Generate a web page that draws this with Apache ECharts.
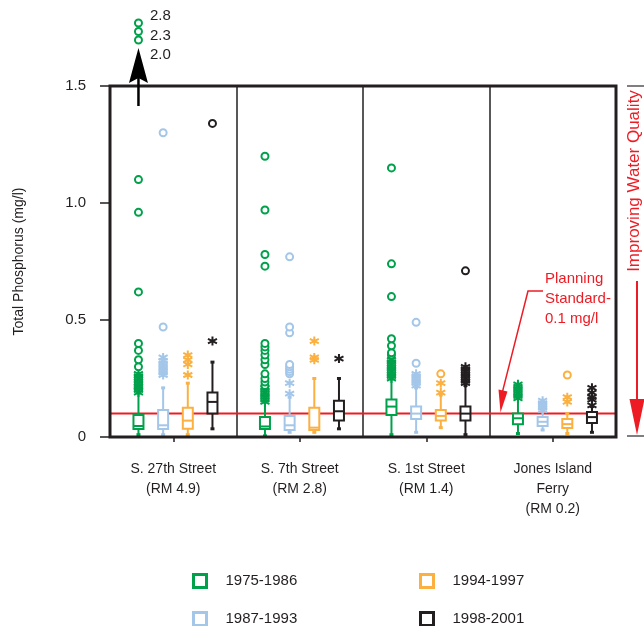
<!DOCTYPE html>
<html>
<head>
<meta charset="utf-8">
<script src="https://cdn.jsdelivr.net/npm/echarts@6/dist/echarts.min.js"></script>
<style>
html,body{margin:0;padding:0;background:#fff;}
#chart{width:644px;height:626px;}
</style>
</head>
<body>
<div id="chart"></div>
<script>
// ---------------- data ----------------
const sites = ['S. 27th Street\n(RM 4.9)', 'S. 7th Street\n(RM 2.8)', 'S. 1st Street\n(RM 1.4)', 'Jones Island\nFerry\n(RM 0.2)'];
const periods = ['1975-1986', '1987-1993', '1994-1997', '1998-2001'];
const yTicks = [0, 0.5, 1.0, 1.5];
const standard = 0.1;

// [low whisker, q1, median, q3, high whisker] per site
const box1975 = [[0.01, 0.034, 0.047, 0.094, 0.19], [0.005, 0.034, 0.045, 0.085, 0.15], [0.01, 0.094, 0.13, 0.16, 0.25], [0.015, 0.055, 0.08, 0.10, 0.165]];
const box1987 = [[0.01, 0.034, 0.05, 0.115, 0.21], [0.02, 0.03, 0.05, 0.09, 0.17], [0.02, 0.077, 0.10, 0.13, 0.21], [0.03, 0.047, 0.065, 0.085, 0.115]];
const box1994 = [[0.01, 0.035, 0.07, 0.125, 0.23], [0.02, 0.03, 0.04, 0.125, 0.25], [0.04, 0.07, 0.09, 0.115, 0.18], [0.015, 0.038, 0.055, 0.077, 0.10]];
const box1998 = [[0.035, 0.10, 0.15, 0.19, 0.32], [0.035, 0.07, 0.11, 0.155, 0.25], [0.01, 0.07, 0.10, 0.13, 0.22], [0.02, 0.06, 0.085, 0.107, 0.13]];

// asterisk outliers per site
const stars1975 = [[0.19, 0.20, 0.21, 0.215, 0.22, 0.23, 0.24, 0.25, 0.26, 0.27], [0.15, 0.16, 0.17, 0.18, 0.19, 0.20, 0.21], [0.25, 0.26, 0.27, 0.28, 0.29, 0.30, 0.31, 0.32, 0.33], [0.165, 0.175, 0.185, 0.195, 0.205, 0.215, 0.225]];
const stars1987 = [[0.265, 0.275, 0.285, 0.295, 0.305, 0.315, 0.325, 0.34], [0.185, 0.23], [0.22, 0.23, 0.24, 0.25, 0.26, 0.27], [0.115, 0.125, 0.135, 0.145, 0.155]];
const stars1994 = [[0.265, 0.31, 0.33, 0.35], [0.33, 0.34, 0.41], [0.19, 0.23], [0.15, 0.17]];
const stars1998 = [[0.41], [0.335], [0.23, 0.24, 0.25, 0.26, 0.27, 0.28, 0.29, 0.30], [0.135, 0.16, 0.17, 0.19, 0.21]];

// circle outliers per site
const circles1975 = [[0.30, 0.33, 0.37, 0.40, 0.62, 0.96, 1.10], [0.22, 0.235, 0.25, 0.27, 0.31, 0.33, 0.35, 0.37, 0.385, 0.40, 0.73, 0.78, 0.97, 1.20], [0.35, 0.36, 0.39, 0.42, 0.60, 0.74, 1.15], []];
const circles1987 = [[0.47, 1.30], [0.27, 0.28, 0.29, 0.30, 0.31, 0.445, 0.47, 0.77], [0.315, 0.49], []];
const circles1994 = [[], [], [0.27], [0.265]];
const circles1998 = [[1.34], [], [0.71], []];

// off-scale outliers (S. 27th Street, 1975-1986)
const offScale = ['2.0', '2.3', '2.8'];

// ---------------- style ----------------
const colors = ['#00a14b', '#a3c6e9', '#fbb040', '#231f20'];
const red = '#ed1c24';
const ink = '#231f20';
const font = '"Liberation Sans", Arial, sans-serif';
const offsets = [0.225, 0.42, 0.615, 0.81];

const boxes = [box1975, box1987, box1994, box1998];
const stars = [stars1975, stars1987, stars1994, stars1998];
const circles = [circles1975, circles1987, circles1994, circles1998];

const starPath = 'path://M0,-5L0,5M-4.33,-2.5L4.33,2.5M-4.33,2.5L4.33,-2.5';

function boxRender(params, api) {
  const x = api.value(0);
  const pts = [1, 2, 3, 4, 5].map(i => api.coord([x, api.value(i)]));
  const cx = pts[0][0];
  const yl = pts[0][1], yq1 = pts[1][1], ym = pts[2][1], yq3 = pts[3][1], yh = pts[4][1];
  const hw = 5;
  const col = api.visual('color');
  const ls = {stroke: col, lineWidth: 2, fill: null};
  return {
    type: 'group',
    children: [
      {type: 'line', shape: {x1: cx, y1: yl, x2: cx, y2: yq1}, style: ls},
      {type: 'line', shape: {x1: cx, y1: yq3, x2: cx, y2: yh}, style: ls},
      {type: 'line', shape: {x1: cx - 2, y1: yl, x2: cx + 2, y2: yl}, style: {stroke: col, lineWidth: 3}},
      {type: 'line', shape: {x1: cx - 2, y1: yh, x2: cx + 2, y2: yh}, style: {stroke: col, lineWidth: 3}},
      {type: 'rect', shape: {x: cx - hw, y: yq3, width: hw * 2, height: yq1 - yq3}, style: {stroke: col, lineWidth: 2, fill: '#fff'}},
      {type: 'line', shape: {x1: cx - hw, y1: ym, x2: cx + hw, y2: ym}, style: ls}
    ]
  };
}

const series = [];
series.push({
  type: 'line', xAxisIndex: 1, yAxisIndex: 0, symbol: 'none', silent: true, z: 1,
  data: [[0, standard], [4, standard]],
  lineStyle: {color: red, width: 2}
});
periods.forEach((p, k) => {
  series.push({
    name: p, type: 'custom', xAxisIndex: 1, yAxisIndex: 0, z: 3,
    itemStyle: {color: colors[k]},
    renderItem: boxRender,
    encode: {x: 0, y: [1, 2, 3, 4, 5]},
    data: boxes[k].map((b, i) => [i + offsets[k]].concat(b))
  });
  const sd = [], cd = [];
  stars[k].forEach((arr, i) => arr.forEach(v => sd.push([i + offsets[k], v])));
  circles[k].forEach((arr, i) => arr.forEach(v => cd.push([i + offsets[k], v])));
  series.push({
    name: p, type: 'scatter', xAxisIndex: 1, yAxisIndex: 0, z: 4,
    symbol: starPath, symbolSize: 9,
    itemStyle: {color: colors[k], borderColor: colors[k], borderWidth: 2, opacity: 1},
    data: sd
  });
  series.push({
    name: p, type: 'scatter', xAxisIndex: 1, yAxisIndex: 0, z: 4,
    symbol: 'emptyCircle', symbolSize: 7,
    itemStyle: {color: colors[k], borderWidth: 1.8, opacity: 1},
    data: cd
  });
});
// off-scale circles
series.push({
  type: 'scatter', xAxisIndex: 2, yAxisIndex: 1, symbol: 'emptyCircle', symbolSize: 7,
  itemStyle: {color: colors[0], borderWidth: 1.8, opacity: 1},
  data: offScale.map((v, i) => [offsets[0], i])
});
// off-scale labels
series.push({
  type: 'scatter', xAxisIndex: 3, yAxisIndex: 2, symbolSize: 1,
  itemStyle: {color: 'rgba(0,0,0,0)', opacity: 1},
  label: {show: true, position: 'right', distance: 11, fontSize: 15, color: ink, fontFamily: font,
          formatter: p => offScale[p.data[1]]},
  data: offScale.map((v, i) => [offsets[0], i])
});

const legendPos = [[187, 568], [187, 606], [414, 568], [414, 606]];
const legends = periods.map((p, k) => ({
  left: legendPos[k][0], top: legendPos[k][1], orient: 'horizontal',
  itemWidth: 13, itemHeight: 13, icon: 'rect', selectedMode: false,
  textStyle: {fontSize: 15, color: ink, fontFamily: font, padding: [0, 0, 0, 14]},
  data: [{name: p, itemStyle: {color: '#fff', borderColor: colors[k], borderWidth: 3}}]
}));

const option = {
  animation: false,
  textStyle: {fontFamily: font},
  grid: [
    {left: 110, right: 28, top: 86, bottom: 189, show: true, borderColor: ink, borderWidth: 3, z: 5},
    {left: 110, right: 28, top: 23, height: 17},
    {left: 110, right: 28, top: 16, height: 39}
  ],
  legend: legends,
  xAxis: [
    {type: 'category', gridIndex: 0, data: sites, boundaryGap: true,
     axisLine: {show: false},
     axisTick: {show: true, alignWithLabel: true, length: 5, lineStyle: {color: ink, width: 1.5}},
     axisLabel: {interval: 0, fontSize: 14, color: ink, lineHeight: 20, margin: 22, fontFamily: font},
     splitLine: {show: false}},
    {type: 'value', gridIndex: 0, min: 0, max: 4, interval: 1, position: 'bottom',
     axisLine: {show: false}, axisTick: {show: false}, axisLabel: {show: false},
     splitLine: {show: true, lineStyle: {color: ink, width: 1.5}}},
    {type: 'value', gridIndex: 1, min: 0, max: 4, show: false},
    {type: 'value', gridIndex: 2, min: 0, max: 4, show: false}
  ],
  yAxis: [
    {type: 'value', gridIndex: 0, min: yTicks[0], max: yTicks[yTicks.length - 1], interval: 0.5,
     name: 'Total Phosphorus (mg/l)', nameLocation: 'middle', nameGap: 84,
     nameTextStyle: {fontSize: 14, color: ink, fontFamily: font},
     axisLine: {show: false},
     axisTick: {show: true, length: 10, lineStyle: {color: ink, width: 1.5}},
     axisLabel: {fontSize: 15, color: ink, margin: 24, fontFamily: font,
                 formatter: v => v === 0 ? '0' : v.toFixed(1)},
     splitLine: {show: false}},
    {type: 'category', gridIndex: 1, data: offScale, boundaryGap: false, show: false},
    {type: 'category', gridIndex: 2, data: offScale, boundaryGap: false, show: false}
  ],
  series: series
};

const chart = echarts.init(document.getElementById('chart'), null, {renderer: 'canvas'});
chart.setOption(option);

// annotations
const topPt = chart.convertToPixel({xAxisIndex: 1, yAxisIndex: 0}, [offsets[0], yTicks[yTicks.length - 1]]);
const zeroPt = chart.convertToPixel({xAxisIndex: 1, yAxisIndex: 0}, [4, 0]);
const stdPt = chart.convertToPixel({xAxisIndex: 1, yAxisIndex: 0}, [3, standard]);
const ax = topPt[0], ay = topPt[1];
const rx = zeroPt[0] + 21;
chart.setOption({
  graphic: [
    {type: 'line', shape: {x1: ax, y1: ay + 20, x2: ax, y2: ay - 10}, style: {stroke: '#000', lineWidth: 2.5}, z: 10},
    {type: 'polygon', shape: {points: [[ax, ay - 38], [ax - 9.5, ay - 3], [ax, ay - 8], [ax + 9.5, ay - 3]]}, style: {fill: '#000'}, z: 10},
    {type: 'text', left: 545, top: 269, style: {text: 'Planning\nStandard-\n0.1 mg/l', fill: red, fontSize: 15, lineHeight: 20, fontFamily: font}, z: 10},
    {type: 'polyline', shape: {points: [[543, 291], [528, 291], [stdPt[0] + 13, stdPt[1] - 22]]}, style: {stroke: red, lineWidth: 1.5, fill: null}, z: 10},
    {type: 'polygon', shape: {points: [[stdPt[0] + 11, stdPt[1] - 1], [stdPt[0] + 9, stdPt[1] - 24], [stdPt[0] + 18, stdPt[1] - 22]]}, style: {fill: red}, z: 10},
    {type: 'text', x: rx - 3, y: 181, rotation: Math.PI / 2,
     style: {text: 'Improving Water Quality', fill: red, fontSize: 17, fontFamily: font, align: 'center', verticalAlign: 'middle'}, z: 10},
    {type: 'line', shape: {x1: rx, y1: 281, x2: rx, y2: 402}, style: {stroke: red, lineWidth: 2}, z: 10},
    {type: 'polygon', shape: {points: [[rx - 7.5, 399], [rx + 7.5, 399], [rx, zeroPt[1] - 2]]}, style: {fill: red}, z: 10},
    {type: 'line', shape: {x1: rx - 10, y1: ay, x2: 644, y2: ay}, style: {stroke: '#555', lineWidth: 1.5}, z: 10},
    {type: 'line', shape: {x1: rx - 10, y1: zeroPt[1] - 1, x2: 644, y2: zeroPt[1] - 1}, style: {stroke: '#555', lineWidth: 1.5}, z: 10}
  ]
});
</script>
</body>
</html>
